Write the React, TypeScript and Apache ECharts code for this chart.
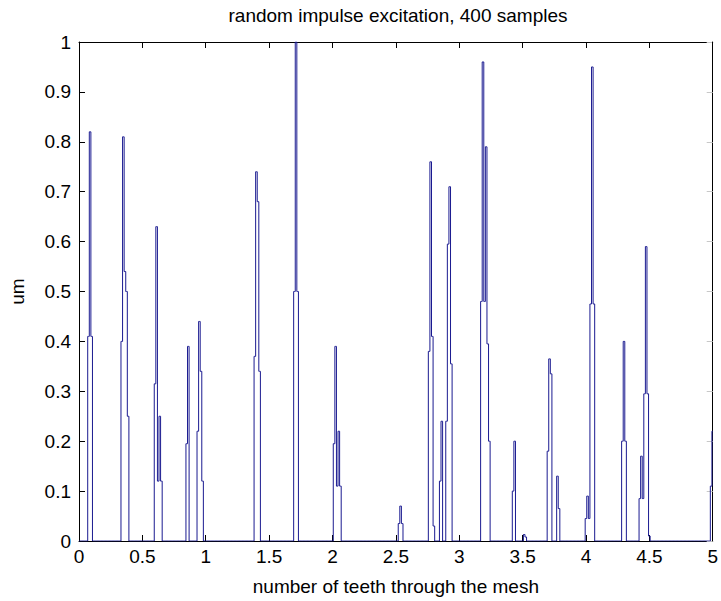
import React, { useEffect, useRef } from "react";
import * as echarts from "echarts";

// sample index (x = index / 80 teeth) and value (um) of every non-zero sample
const sampleIdx: number[] = [
  6, 7, 8,
  27, 28, 29, 30, 31,
  48, 49, 50, 51, 52,
  68, 69,
  75, 76, 77, 78,
  111, 112, 113, 114,
  136, 137, 138,
  161, 162, 163, 164, 165,
  202, 203, 204,
  221, 222, 223, 224,
  228, 229,
  232, 233, 234, 235,
  254, 255, 256, 257, 258, 259,
  274, 275,
  281, 282,
  296, 297, 298,
  302, 303,
  320, 321, 322, 323, 324, 325,
  343, 344, 345,
  354, 355, 356, 357, 358, 359, 360,
  399, 400,
];
const sampleVal: number[] = [
  0.41, 0.82, 0.41,
  0.4, 0.81, 0.54, 0.5, 0.25,
  0.315, 0.63, 0.12, 0.25, 0.12,
  0.195, 0.39,
  0.22, 0.44, 0.34, 0.12,
  0.37, 0.74, 0.68, 0.34,
  0.5, 1.0, 0.5,
  0.195, 0.39, 0.11, 0.22, 0.11,
  0.035, 0.07, 0.035,
  0.38, 0.76, 0.41, 0.03,
  0.12, 0.24,
  0.24, 0.595, 0.71, 0.355,
  0.48, 0.96, 0.48, 0.79, 0.395, 0.2,
  0.1, 0.2,
  0.013, 0.008,
  0.18, 0.365, 0.335,
  0.13, 0.065,
  0.045, 0.09, 0.045, 0.475, 0.95, 0.475,
  0.2, 0.4, 0.2,
  0.085, 0.17, 0.085, 0.295, 0.59, 0.295, 0.01,
  0.11, 0.22,
];
const sampleCount = 401;
const samplesPerTooth = 80;

const titleText = "random impulse excitation, 400 samples";
const xLabel = "number of teeth through the mesh";
const yLabel = "um";

const FONT = "'Liberation Sans', Arial, Helvetica, sans-serif";

export default function App() {
  const ref = useRef<HTMLDivElement>(null);
  useEffect(() => {
    if (!ref.current) return;
    const chart = echarts.init(ref.current, undefined, { renderer: "svg" });
    const lookup = new Map<number, number>();
    sampleIdx.forEach((n, i) => lookup.set(n, sampleVal[i]));
    const data: [number, number][] = [];
    for (let n = 0; n < sampleCount; n++) {
      data.push([n / samplesPerTooth, lookup.get(n) ?? 0]);
    }
    const lbl = { color: "#000", fontSize: 19, fontFamily: FONT };
    const line = { show: true, onZero: false, lineStyle: { color: "#000", width: 1 } };
    chart.setOption({
      animation: false,
      backgroundColor: "#fff",
      title: {
        text: titleText,
        left: 393,
        textAlign: "center",
        top: 1,
        textStyle: { color: "#000", fontSize: 19, fontWeight: "normal", fontFamily: FONT },
      },
      grid: { left: 72, top: 42, width: 642, height: 505, containLabel: false },
      xAxis: [
        {
          type: "value", min: 0, max: 5, interval: 0.5, position: "bottom",
          axisLine: line,
          axisTick: { show: true, inside: true, length: 6, lineStyle: { color: "#000" } },
          axisLabel: { ...lbl, margin: 6 },
          splitLine: { show: false },
          name: xLabel, nameLocation: "middle", nameGap: 36,
          nameTextStyle: lbl,
        },
        {
          type: "value", min: 0, max: 5, interval: 0.5, position: "top",
          axisLine: line,
          axisTick: { show: true, inside: true, length: 6, lineStyle: { color: "#000" } },
          axisLabel: { show: false },
          splitLine: { show: false },
        },
      ],
      yAxis: [
        {
          type: "value", min: 0, max: 1, interval: 0.1, position: "left",
          axisLine: line,
          axisTick: { show: true, inside: true, length: 6, lineStyle: { color: "#000" } },
          axisLabel: { ...lbl, margin: 8 },
          splitLine: { show: false },
          name: yLabel, nameLocation: "middle", nameGap: 52,
          nameTextStyle: lbl,
        },
        {
          type: "value", min: 0, max: 1, interval: 0.1, position: "right",
          axisLine: line,
          axisTick: { show: true, inside: true, length: 6, lineStyle: { color: "#c8c8c8" } },
          axisLabel: { show: false },
          splitLine: { show: false },
        },
      ],
      series: [
        {
          type: "line",
          xAxisIndex: 0,
          yAxisIndex: 0,
          data,
          step: "middle",
          showSymbol: false,
          symbol: "none",
          lineStyle: { color: "#1a1a90", width: 1 },
          itemStyle: { color: "#1a1a90" },
        },
      ],
    });
    return () => chart.dispose();
  }, []);
  return (
    <div
      ref={ref}
      style={{ position: "absolute", left: 0, top: 0, width: 721, height: 601, background: "#fff" }}
    />
  );
}
